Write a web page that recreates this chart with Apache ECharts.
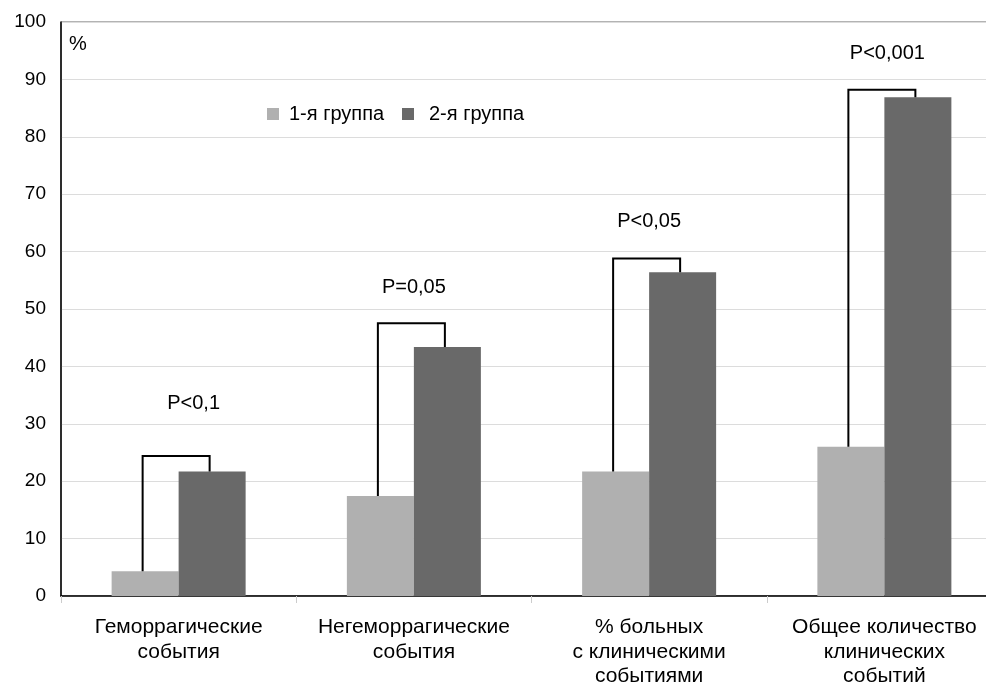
<!DOCTYPE html>
<html><head><meta charset="utf-8">
<script src="https://cdn.jsdelivr.net/npm/echarts@6/dist/echarts.min.js"></script>
<style>html,body{margin:0;padding:0;background:#fff;overflow:hidden}#c{width:986px;height:683px}</style>
</head><body><div id="c"></div>
<script>
const categories = ['Геморрагические\nсобытия', 'Негеморрагические\nсобытия', '% больных\nс клиническими\nсобытиями', 'Общее количество\nклинических\nсобытий'];
const seriesNames = ['1-я группа', '2-я группа'];
const group1 = [4.3, 17.4, 21.7, 26.0];
const group2 = [21.7, 43.4, 56.4, 86.9];
const bracketTop = [24.4, 47.5, 58.8, 88.2];
const pLabels = ['P<0,1', 'P=0,05', 'P<0,05', 'P<0,001'];
const pLabelY = [33.6, 53.8, 65.3, 94.6];
const yTicks = {min: 0, max: 100, interval: 10};

const FONT = '"Liberation Sans", Arial, sans-serif';
const LABEL_DX = [15, 0, 0, 3]; // horizontal nudge of P labels (px, styling)
const chart = echarts.init(document.getElementById('c'), null, {renderer: 'canvas'});

const bracketData = categories.map((c, i) => [i, group1[i], group2[i], bracketTop[i]]);
const labelData = categories.map((c, i) => [i, pLabelY[i]]);

chart.setOption({
  animation: false,
  backgroundColor: '#fff',
  textStyle: {fontFamily: FONT},
  grid: {left: 61, width: 941, top: 22, height: 574, outerBoundsMode: 'none', containLabel: false,
    show: true, borderColor: '#666', borderWidth: 1, backgroundColor: 'transparent'},
  legend: [
    {left: 262, top: 99, itemWidth: 12, itemHeight: 12, icon: 'rect', data: [seriesNames[0]],
      textStyle: {fontFamily: FONT, fontSize: 20, color: '#000', padding: [0, 0, 0, 5]}},
    {left: 397, top: 99, itemWidth: 12, itemHeight: 12, icon: 'rect', data: [seriesNames[1]],
      textStyle: {fontFamily: FONT, fontSize: 20, color: '#000', padding: [0, 0, 0, 10]}}
  ],
  graphic: [{type: 'text', left: 69, top: 34, style: {text: '%', fontFamily: FONT, fontSize: 20, fill: '#000'}}],
  xAxis: {
    type: 'category', data: categories,
    axisLine: {lineStyle: {color: '#000', width: 1.5}},
    axisTick: {show: true, alignWithLabel: false, length: 7, lineStyle: {color: '#ccc'}},
    axisLabel: {interval: 0, fontFamily: FONT, fontSize: 21, color: '#000', lineHeight: 24.5, margin: 19}
  },
  yAxis: {
    type: 'value', min: yTicks.min, max: yTicks.max, interval: yTicks.interval,
    axisLine: {show: true, lineStyle: {color: '#000', width: 1.5}},
    axisTick: {show: false},
    splitLine: {lineStyle: {color: '#dcdcdc'}},
    axisLabel: {fontFamily: FONT, fontSize: 19, color: '#000', margin: 15}
  },
  series: [
    {name: seriesNames[0], type: 'bar', data: group1, barWidth: 67, barGap: '0%', itemStyle: {color: '#b0b0b0'}},
    {name: seriesNames[1], type: 'bar', data: group2, barWidth: 67, itemStyle: {color: '#696969'}},
    {
      type: 'custom', data: bracketData, encode: {x: 0, y: 3}, z: 5,
      renderItem: function (params, api) {
        const i = api.value(0);
        const pL = api.coord([i, api.value(1)]);
        const pR = api.coord([i, api.value(2)]);
        const pT = api.coord([i, api.value(3)]);
        const xl = pL[0] - 36, xr = pL[0] + 31;
        return {type: 'polyline', shape: {points: [[xl, pL[1]], [xl, pT[1]], [xr, pT[1]], [xr, pR[1]]]},
          style: {stroke: '#000', lineWidth: 2, fill: null}};
      }
    },
    {
      type: 'custom', data: labelData, encode: {x: 0, y: 1}, z: 6,
      renderItem: function (params, api) {
        const i = api.value(0);
        const p = api.coord([i, api.value(1)]);
        return {type: 'text', x: p[0] + LABEL_DX[params.dataIndex], y: p[1],
          style: {text: pLabels[params.dataIndex], fontFamily: FONT, fontSize: 20, fill: '#000', align: 'center', verticalAlign: 'middle'}};
      }
    }
  ]
});
</script></body></html>
